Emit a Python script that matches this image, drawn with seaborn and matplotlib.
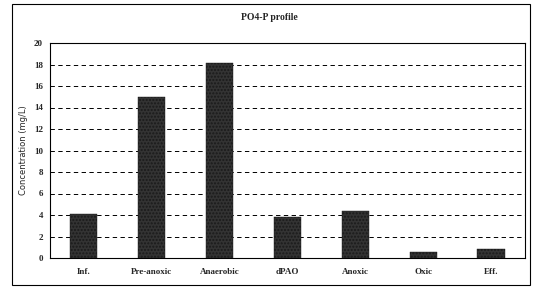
import pandas as pd
import matplotlib.pyplot as plt
import seaborn as sns
from matplotlib.patches import Rectangle

# data
stages = ['Inf.', 'Pre-anoxic', 'Anaerobic', 'dPAO', 'Anoxic', 'Oxic', 'Eff.']
po4 = [4.1, 15.0, 18.1, 3.8, 4.4, 0.6, 0.8]
yticks = list(range(0, 21, 2))

df = pd.DataFrame({'stage': stages, 'po4': po4})

sns.set_style('white')
plt.rcParams['font.family'] = ['Liberation Serif', 'DejaVu Serif']

fig = plt.figure(figsize=(5.39, 2.87), dpi=100)
ax = fig.add_axes([50 / 539, 1 - 258 / 287, 475 / 539, 215 / 287])

sns.barplot(data=df, x='stage', y='po4', color='#333333', width=0.4,
            saturation=1, ax=ax, zorder=3)
for p in ax.patches:
    p.set_hatch('.....')
    p.set_edgecolor('#1a1a1a')
    p.set_linewidth(0.3)

ax.set_ylim(0, 20)
ax.set_yticks(yticks)
ax.set_xlim(-0.5, len(stages) - 0.5)
for y in yticks[1:-1]:
    ax.axhline(y, color='black', ls=(0, (4.5, 3.5)), lw=0.7, zorder=1)

ax.tick_params(axis='both', labelsize=6.5, length=0)
ax.tick_params(axis='y', pad=5)
ax.tick_params(axis='x', pad=7)
for lbl in ax.get_xticklabels() + ax.get_yticklabels():
    lbl.set_fontweight('bold')
ax.set_xlabel('')
ax.set_ylabel('Concentration (mg/L)', fontsize=6, family='DejaVu Sans', labelpad=4)
for s in ax.spines.values():
    s.set_color('black')
    s.set_linewidth(0.8)

fig.text(0.5, 1 - 17 / 287, 'PO4-P profile', ha='center', va='center',
         fontsize=7, fontweight='bold')

fig.patches.append(Rectangle((12 / 539, 2 / 287), 518 / 539, 281 / 287,
                             transform=fig.transFigure, fill=False,
                             edgecolor='black', lw=0.8))

fig.savefig('out.png', dpi=100)
